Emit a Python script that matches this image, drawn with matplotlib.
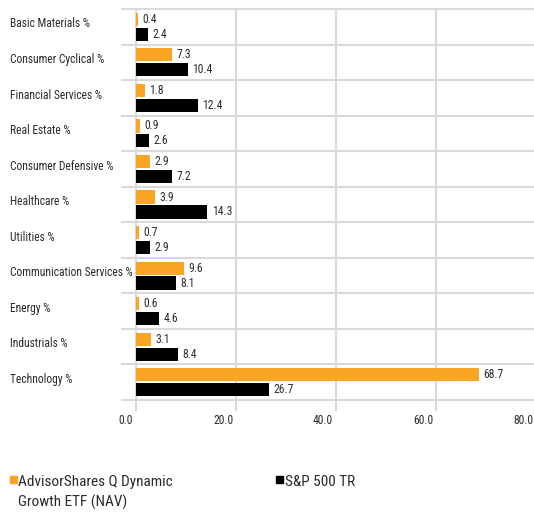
import matplotlib.pyplot as plt
import matplotlib.transforms as mtransforms
from matplotlib.patches import Rectangle

categories = ["Basic Materials %", "Consumer Cyclical %", "Financial Services %", "Real Estate %",
              "Consumer Defensive %", "Healthcare %", "Utilities %", "Communication Services %",
              "Energy %", "Industrials %", "Technology %"]
fund = [0.4, 7.3, 1.8, 0.9, 2.9, 3.9, 0.7, 9.6, 0.6, 3.1, 68.7]
spx = [2.4, 10.4, 12.4, 2.6, 7.2, 14.3, 2.9, 8.1, 4.6, 8.4, 26.7]
xticks = [0, 20, 40, 60, 80]
fund_name = "AdvisorShares Q Dynamic\nGrowth ETF (NAV)"
spx_name = "S&P 500 TR"

orange = "#FBA524"
black = "#000000"
grid = "#D9D9D9"
txt = "#2B2B2B"
plt.rcParams['font.family'] = ['Roboto Condensed', 'Liberation Sans', 'DejaVu Sans']

fig = plt.figure(figsize=(5.34, 5.12), dpi=100)
# x=80 sits just past the right edge of the picture
ax = fig.add_axes([135.7 / 534, 1 - 400 / 512, 400 / 534, 391 / 512])

n = len(categories)
ys = list(range(n))
ax.barh([y - 0.21 for y in ys], fund, height=0.37, color=orange, zorder=3)
ax.barh([y + 0.21 for y in ys], spx, height=0.37, color=black, zorder=3)
for y, v in zip(ys, fund):
    ax.text(v + 0.9, y - 0.21, f"{v:.1f}", va="center", ha="left", fontsize=8.4, color=txt)
for y, v in zip(ys, spx):
    ax.text(v + 0.9, y + 0.21, f"{v:.1f}", va="center", ha="left", fontsize=8.4, color=txt)

ax.set_xlim(0, 80)
ax.set_ylim(n - 0.5, -0.5)
for s in ax.spines.values():
    s.set_visible(False)
ax.set_yticks([])
ax.set_xticks(xticks)
ax.set_xticklabels([f"{t:.1f}" for t in xticks], fontsize=8.4, color=txt)
ax.tick_params(axis="x", length=0, pad=10)
shift = mtransforms.ScaledTranslation(-2.5 / 100, 0, fig.dpi_scale_trans)
for lab in ax.get_xticklabels():
    lab.set_horizontalalignment("right")
    lab.set_transform(lab.get_transform() + shift)

# vertical gridlines, running slightly past the bottom
trans_x = mtransforms.blended_transform_factory(ax.transData, ax.transAxes)
for t in xticks:
    ax.plot([t, t], [-0.026, 1], color=grid, lw=1.5, transform=trans_x, clip_on=False, zorder=1)
# horizontal separators, extending left of the axes
trans_y = mtransforms.blended_transform_factory(ax.transAxes, ax.transData)
for k in range(n + 1):
    ax.plot([-0.034, 1], [k - 0.5, k - 0.5], color=grid, lw=1.5, transform=trans_y,
            clip_on=False, zorder=1)

lab_trans = mtransforms.blended_transform_factory(fig.transFigure, ax.transData)
for y, c in zip(ys, categories):
    ax.text(10 / 534, y - 0.08, c, transform=lab_trans,
            va="center", ha="left", fontsize=8.3, color=txt)

# legend
fig.patches.append(Rectangle((10 / 534, 1 - 483 / 512), 7 / 534, 7 / 512, transform=fig.transFigure,
                             color=orange))
fig.text(18 / 534, 1 - 475 / 512, fund_name, va="top", ha="left", fontsize=11, color=txt, linespacing=1.5)
fig.patches.append(Rectangle((276 / 534, 1 - 483 / 512), 7 / 534, 7 / 512, transform=fig.transFigure,
                             color=black))
fig.text(285 / 534, 1 - 475 / 512, spx_name, va="top", ha="left", fontsize=11, color=txt)

fig.savefig("out.png", dpi=100)
